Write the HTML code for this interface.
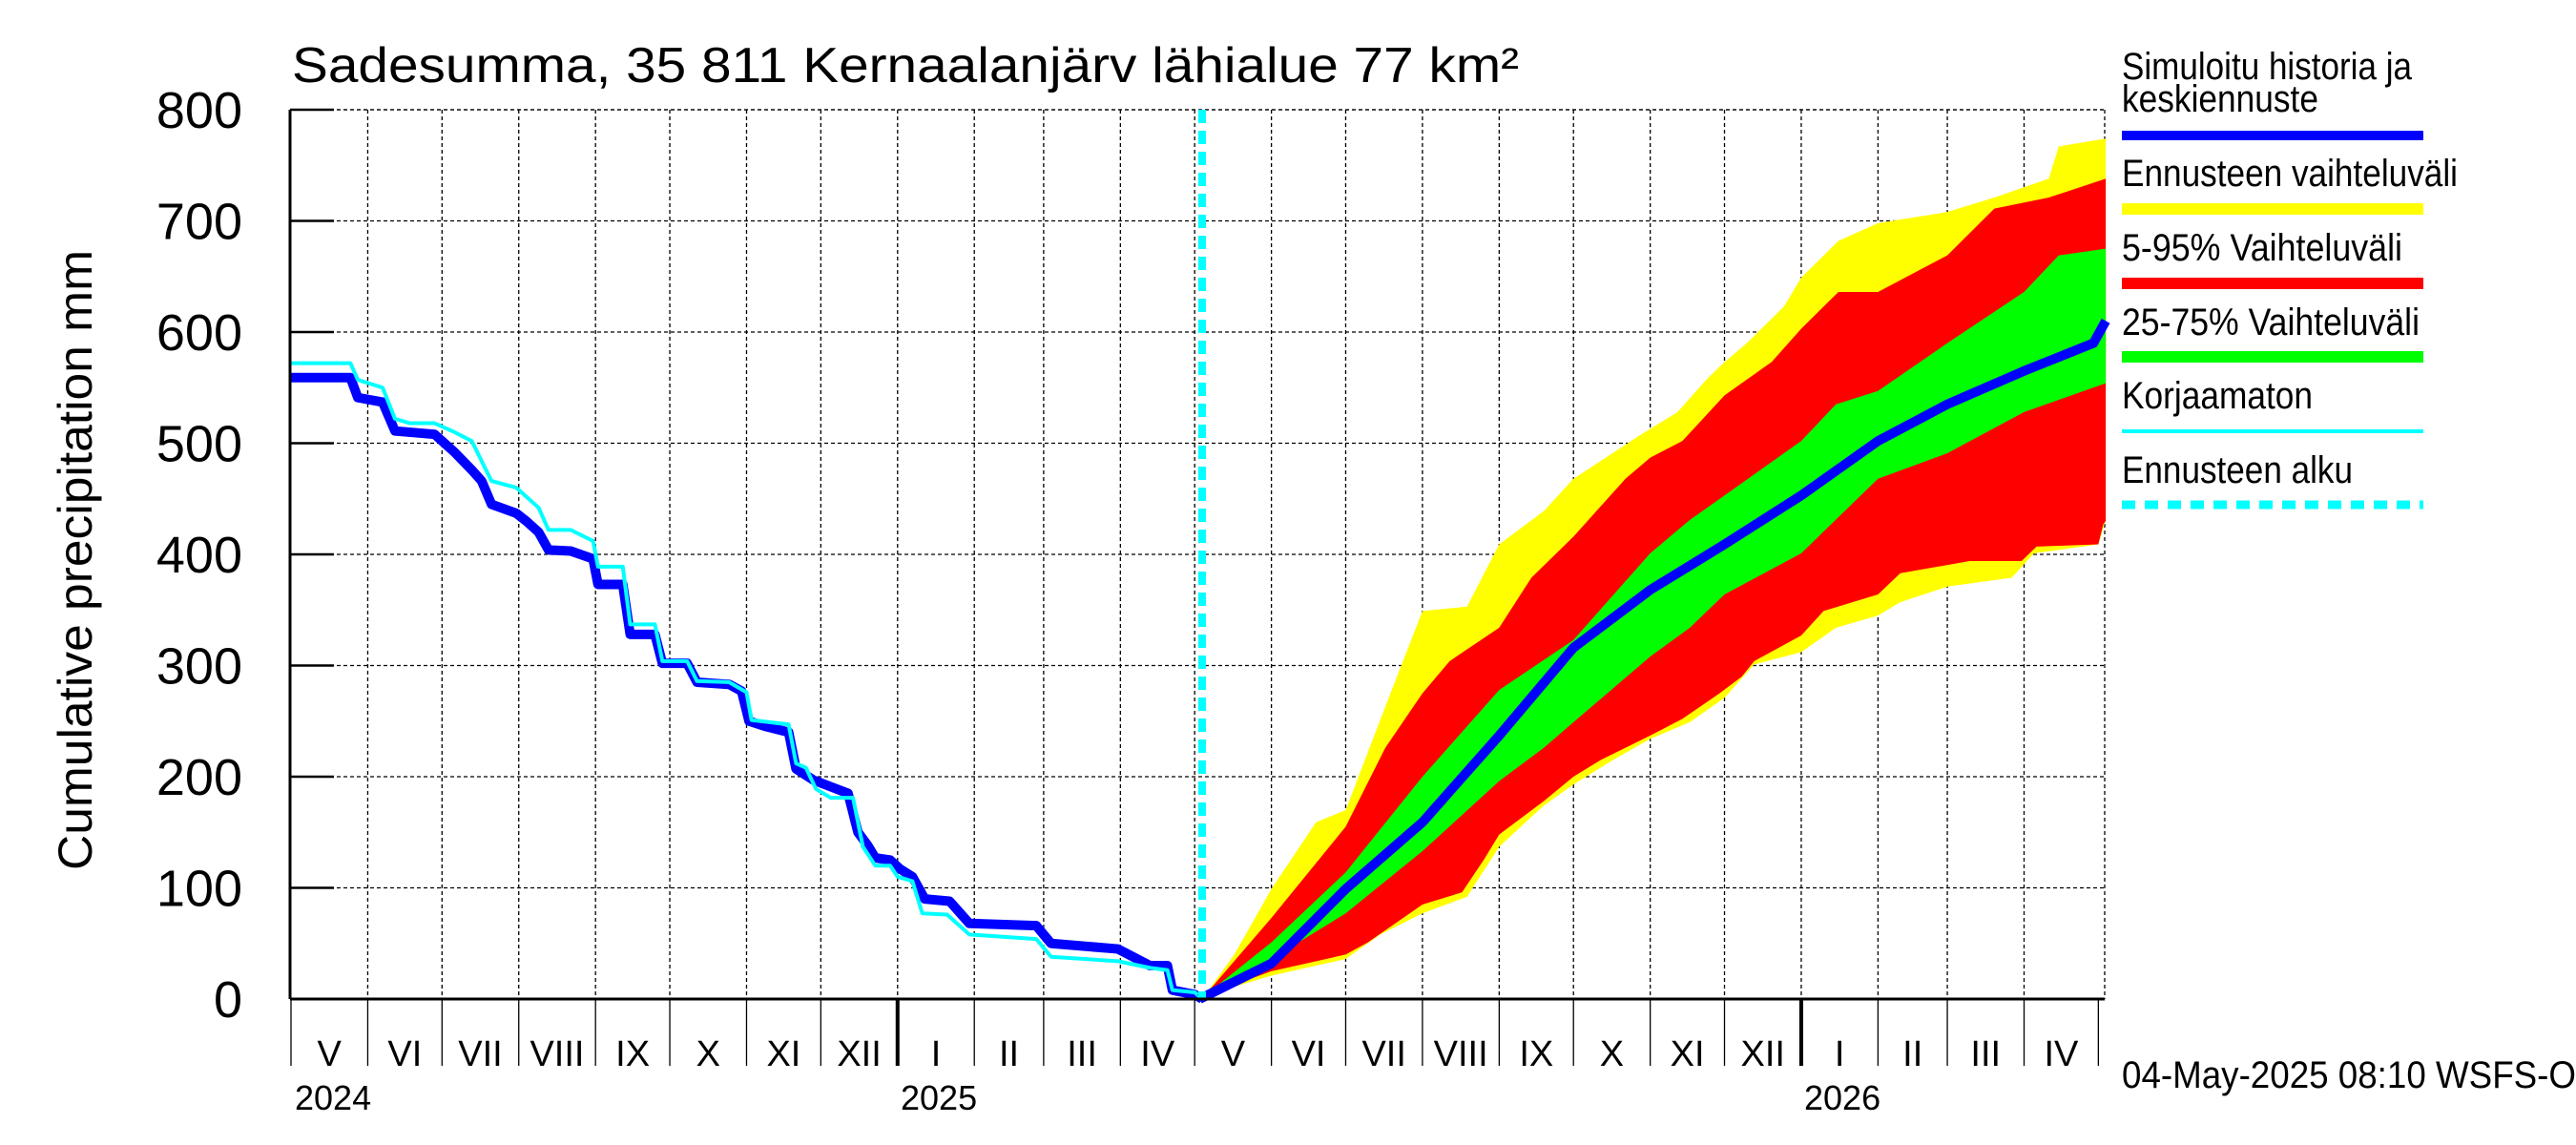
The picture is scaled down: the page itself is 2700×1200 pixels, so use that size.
<!DOCTYPE html>
<html><head><meta charset="utf-8"><style>
html,body{margin:0;padding:0;background:#fff;}
svg{display:block;font-family:"Liberation Sans",Arial,sans-serif;}
</style></head><body>
<svg id="chart" width="2700" height="1200" viewBox="0 0 2700 1200" xmlns="http://www.w3.org/2000/svg">
<rect width="2700" height="1200" fill="#fff"/>
<text x="306" y="86" font-size="52" textLength="1286" lengthAdjust="spacingAndGlyphs">Sadesumma, 35 811 Kernaalanjärv lähialue 77 km²</text>
<text transform="translate(96,587) rotate(-90)" text-anchor="middle" font-size="50" textLength="650" lengthAdjust="spacingAndGlyphs">Cumulative precipitation   mm</text>
<g id="grid"></g>
<g id="bands"></g>
<g id="lines"></g>
<g id="axes"></g>
<g id="legend">
<text x="2224" y="83" font-size="40" textLength="304" lengthAdjust="spacingAndGlyphs">Simuloitu historia ja</text>
<text x="2224" y="117" font-size="40" textLength="206" lengthAdjust="spacingAndGlyphs">keskiennuste</text>
<rect x="2224" y="137" width="316" height="10" fill="#0000ff"/>
<text x="2224" y="195" font-size="40" textLength="352" lengthAdjust="spacingAndGlyphs">Ennusteen vaihteluväli</text>
<rect x="2224" y="213" width="316" height="12" fill="#ffff00"/>
<text x="2224" y="273" font-size="40" textLength="294" lengthAdjust="spacingAndGlyphs">5-95% Vaihteluväli</text>
<rect x="2224" y="291" width="316" height="12" fill="#ff0000"/>
<text x="2224" y="351" font-size="40" textLength="312" lengthAdjust="spacingAndGlyphs">25-75% Vaihteluväli</text>
<rect x="2224" y="368" width="316" height="12" fill="#00ff00"/>
<text x="2224" y="428" font-size="40" textLength="200" lengthAdjust="spacingAndGlyphs">Korjaamaton</text>
<rect x="2224" y="450" width="316" height="4" fill="#00ffff"/>
<text x="2224" y="506" font-size="40" textLength="242" lengthAdjust="spacingAndGlyphs">Ennusteen alku</text>
<line x1="2224" y1="529" x2="2540" y2="529" stroke="#00ffff" stroke-width="9" stroke-dasharray="14 10"/>
</g>
<text x="2224" y="1140" font-size="40" textLength="476" lengthAdjust="spacingAndGlyphs">04-May-2025 08:10 WSFS-O</text>
</svg>
<script>
// data (day index from 2024-05-01, value mm)
const histDays=[0,24,27,37,42,58,66,73,77,81,91,95,100,104,113,122,124,134,137,147,150,160,164,177,182,185,192,201,204,211,218,225,229,233,236,242,246,251,256,266,274,301,307,334,347,354,356,365,368];
const histVals=[559,559,541,537,511,508,492,476,466,445,437,430,420,404,403,396,373,373,328,328,302,302,285,283,277,250,245,240,207,197,191,185,150,138,127,125,117,110,90,88,68,66,50,45,30,30,8,4,0];
const rawDays=[0,24,27,37,42,48,58,66,73,81,91,100,104,113,122,124,134,137,147,150,160,164,177,184,186,201,204,208,212,218,227,231,236,242,245,251,255,265,274,301,307,334,347,354,356,365,368];
const rawVals=[572,572,557,550,522,518,518,510,502,466,460,442,422,422,412,389,389,337,337,304,304,286,285,276,251,247,212,208,189,181,181,137,120,120,110,106,77,76,58,54,38,34,28,26,8,6,0];
const yHiDays=[367,369,381,396,414,426,442,457,475,488,506,518,544,560,572,579,588,603,610,625,641,669,688,710,714,733];
const yHiVals=[0,3,40,99,159,170,263,349,353,409,439,468,506,528,558,573,590,623,649,682,698,708,721,738,767,774];
const yLoDays=[367,369,396,426,440,457,475,488,506,518,534,549,565,579,591,610,624,641,650,669,695,704,730,733];
const yLoVals=[0,3,21,36,58,77,92,137,174,193,215,234,249,271,301,312,334,345,357,371,379,401,409,431];
const rHiDays=[367,369,396,426,442,457,468,488,501,518,539,549,562,579,598,610,625,641,669,688,710,733];
const rHiVals=[0,3,73,155,226,275,304,334,379,416,468,487,502,543,573,603,636,636,669,711,721,738];
const rLoDays=[367,369,396,426,435,457,473,482,488,506,518,529,549,562,577,586,591,610,619,641,650,678,699,705,730,732,733];
const rLoVals=[0,3,25,40,51,85,96,126,148,178,200,215,237,252,275,290,304,327,349,364,383,394,394,407,409,427,430];
const gHiDays=[367,369,396,426,457,488,518,549,565,579,610,624,641,669,700,714,733];
const gHiVals=[0,3,51,114,200,278,323,401,431,453,502,535,547,590,636,669,675];
const gLoDays=[367,369,396,426,457,488,506,518,549,565,579,610,641,669,700,733];
const gLoVals=[0,3,36,77,133,196,226,249,308,334,364,401,468,491,528,554];
const fcDays=[367,396,426,457,488,518,549,579,610,641,669,700,728,733];
const fcVals=[0,32,99,159,237,316,368,409,453,502,535,565,590,610];
const yTicks=[0,100,200,300,400,500,600,700,800];
const monthLabels=["V","VI","VII","VIII","IX","X","XI","XII","I","II","III","IV","V","VI","VII","VIII","IX","X","XI","XII","I","II","III","IV"];
const forecastStartDay=368;

const NS="http://www.w3.org/2000/svg";
const X0=305,PXD=2.595,PL=304,PR=2206,PT=115,PB=1047;
const xs=d=>X0+d*PXD;
const ys=v=>PB-(v/800)*(PB-PT);
function el(tag,attrs,parent){const e=document.createElementNS(NS,tag);for(const k in attrs)e.setAttribute(k,attrs[k]);parent.appendChild(e);return e;}
const grid=document.getElementById('grid'),bands=document.getElementById('bands'),lines=document.getElementById('lines'),axes=document.getElementById('axes');

const start=new Date(Date.UTC(2024,4,1));
const monthDays=[];
for(let i=0;i<=24;i++){const d=new Date(Date.UTC(2024,4+i,1));monthDays.push((d-start)/86400000);}
yTicks.forEach(v=>{
  if(v>0){const g=el('line',{x1:PL,x2:PR,y1:ys(v),y2:ys(v),stroke:'#000','stroke-width':1.3,'stroke-dasharray':'4 3'},grid);
  
  }
  const t=el('line',{x1:PL,x2:PL+46,y1:ys(v),y2:ys(v),stroke:'#000','stroke-width':2.5},axes);
  
  
  const lab=el('text',{x:254,y:ys(v)+19,'text-anchor':'end','font-size':54},axes);
  lab.textContent=v;
  
  
});
monthDays.forEach((d,i)=>{
  const x=Math.min(xs(d),PR);
  if(i>0&&i<24){const g=el('line',{x1:x,x2:x,y1:PT,y2:PB,stroke:'#000','stroke-width':1.3,'stroke-dasharray':'4 3'},grid);
  
  }
  const isJan=new Date(start.getTime()+d*86400000).getUTCMonth()===0;
  const t=el('line',{x1:x,x2:x,y1:PB,y2:1117,stroke:'#000','stroke-width':isJan?4:1.3},axes);
  
  
  if(i<24){
    const cx=(xs(d)+Math.min(xs(monthDays[i+1]),PR))/2;
    const lab=el('text',{x:cx,y:1117,'text-anchor':'middle','font-size':38},axes);
    lab.textContent=monthLabels[i];
    
    
  }
});
el('line',{x1:PL,x2:PR,y1:PT,y2:PT,stroke:'#000','stroke-width':1.3,'stroke-dasharray':'4 3'},grid);
el('line',{x1:PR,x2:PR,y1:PT,y2:PB,stroke:'#000','stroke-width':1.3,'stroke-dasharray':'4 3'},grid);
[["2024",309],["2025",944],["2026",1891]].forEach(([t,x])=>{
  const lab=el('text',{x:x,y:1163,'font-size':36},axes);lab.textContent=t;
  
  
});
const ya=el('line',{x1:PL,x2:PL,y1:PT,y2:PB,stroke:'#000','stroke-width':3},axes);


const xa=el('line',{x1:PL,x2:PR,y1:PB,y2:PB,stroke:'#000','stroke-width':3},axes);



function band(hd,hv,ld,lv,color,name){
  const pts=hd.map((d,i)=>xs(d)+','+ys(hv[i]));
  for(let i=ld.length-1;i>=0;i--)pts.push(xs(ld[i])+','+ys(lv[i]));
  const p=el('polygon',{points:pts.join(' '),fill:color},bands);
  
  
}
band(yHiDays,yHiVals,yLoDays,yLoVals,'#ffff00','forecast-range-band');
band(rHiDays,rHiVals,rLoDays,rLoVals,'#ff0000','band-5-95');
band(gHiDays,gHiVals,gLoDays,gLoVals,'#00ff00','band-25-75');
function line(ds,vs,color,w,name){
  const p=el('polyline',{points:ds.map((d,i)=>xs(d)+','+ys(vs[i])).join(' '),fill:'none',stroke:color,'stroke-width':w,'stroke-linejoin':'round'},lines);
  
  
}
line(histDays,histVals,'#0000ff',10,'simulated-history-line');
line(rawDays,rawVals,'#00ffff',4,'uncorrected-line');
line(fcDays,fcVals,'#0000ff',10,'median-forecast-line');
const fs=el('line',{x1:xs(forecastStartDay),x2:xs(forecastStartDay),y1:PT,y2:PB,stroke:'#00ffff','stroke-width':8,'stroke-dasharray':'14 8'},lines);


</script>
</body></html>
